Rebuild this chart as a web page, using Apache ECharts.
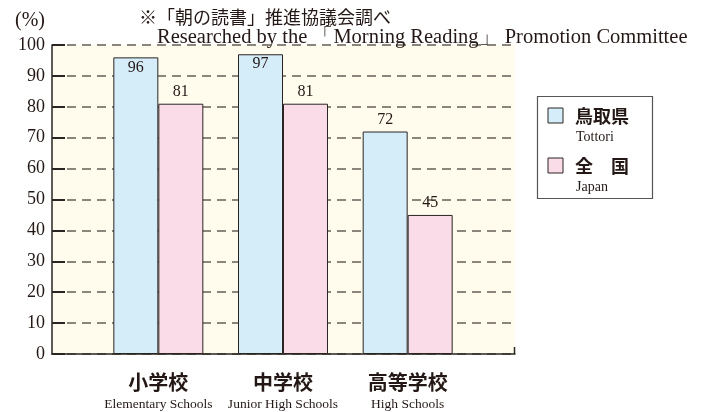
<!DOCTYPE html>
<html>
<head>
<meta charset="utf-8">
<script src="https://cdn.jsdelivr.net/npm/echarts@6/dist/echarts.min.js"></script>
<style>
  html, body { margin: 0; padding: 0; background: #fff; }
  #chart { width: 705px; height: 412px; }
</style>
</head>
<body>
<div id="chart"></div>
<script>
// 学校種別（日本語 / 英語）
const categoriesJa = ['小学校', '中学校', '高等学校'];
const categoriesEn = ['Elementary Schools', 'Junior High Schools', 'High Schools'];
// 系列
const seriesNames = ['鳥取県', '全　国'];
const seriesNamesEn = ['Tottori', 'Japan'];
const seriesColors = ['#d5ecf9', '#f9dce8'];
const tottoriValues = [96, 97, 72];
const japanValues = [81, 81, 45];
// y軸
const yMin = 0;
const yMax = 100;
const yStep = 10;

const serif = '"Liberation Serif", "DejaVu Serif", serif';
const cjk = '"Noto Sans CJK JP", sans-serif';
const ink = '#231815';
const lineInk = '#2a2522';

const chart = echarts.init(document.getElementById('chart'));

const labelStyle = function (pos) {
  return {
    show: true,
    position: pos,
    distance: pos === 'insideTop' ? 2 : 4,
    fontFamily: serif,
    fontSize: 16,
    color: ink
  };
};

// 凡例（枠・色見本・文字）
const legendItems = [];
seriesNames.forEach(function (name, i) {
  const y0 = 108 + i * 50;
  legendItems.push(
    { type: 'rect', shape: { x: 548, y: y0, width: 15, height: 15 }, style: { fill: seriesColors[i], stroke: lineInk, lineWidth: 1 } },
    { type: 'text', x: 575, y: y0 + 8, style: { text: name, fontFamily: cjk, fontSize: 18, fontWeight: 'bold', fill: ink, verticalAlign: 'middle' } },
    { type: 'text', x: 576, y: y0 + 29, style: { text: seriesNamesEn[i], fontFamily: serif, fontSize: 14, fill: ink, verticalAlign: 'middle' } }
  );
});

const option = {
  animation: false,
  backgroundColor: '#ffffff',
  grid: [
    // 背景・目盛り用
    { left: 52, right: 190, top: 45, bottom: 58, show: true, backgroundColor: '#fffcee', borderWidth: 0 },
    // 棒グラフ用
    { left: 96, right: 235, top: 45, bottom: 58 }
  ],
  title: [
    { text: '(%)', left: 10, top: 6, textStyle: { fontFamily: serif, fontSize: 20, fontWeight: 'normal', color: ink } },
    { text: '※「朝の読書」推進協議会調べ', left: 134, top: 3, textStyle: { fontFamily: cjk, fontSize: 18, fontWeight: 'normal', color: ink } },
    { text: 'Researched by the 「Morning Reading」 Promotion Committee', left: 152, top: 22, textStyle: { fontFamily: serif, fontSize: 20.5, fontWeight: 'normal', color: ink } }
  ],
  xAxis: [
    {
      gridIndex: 0,
      type: 'category',
      data: [''],
      axisLine: { show: true, lineStyle: { color: lineInk, width: 1.5 } },
      axisTick: { show: false },
      axisLabel: { show: false }
    },
    {
      gridIndex: 1,
      type: 'category',
      data: categoriesJa,
      axisLine: { show: false },
      axisTick: { show: false },
      axisLabel: {
        interval: 0,
        hideOverlap: false,
        margin: 16,
        formatter: function (v, i) {
          return '{ja|' + v + '}\n{en|' + categoriesEn[i] + '}';
        },
        rich: {
          ja: { fontFamily: cjk, fontSize: 20, fontWeight: 'bold', color: ink, lineHeight: 25 },
          en: { fontFamily: serif, fontSize: 13.5, color: ink, lineHeight: 18 }
        }
      }
    }
  ],
  yAxis: [
    {
      gridIndex: 0,
      type: 'value',
      min: yMin,
      max: yMax,
      interval: yStep,
      axisLine: { show: true, lineStyle: { color: lineInk, width: 1.5 } },
      axisTick: { show: true, inside: true, length: 13, lineStyle: { color: lineInk, width: 2 } },
      axisLabel: { margin: 7, fontFamily: serif, fontSize: 18, color: ink },
      splitLine: { show: true, lineStyle: { color: '#8c857b', width: 2, type: [9, 6] } }
    },
    {
      gridIndex: 1,
      type: 'value',
      min: yMin,
      max: yMax,
      interval: yStep,
      show: false,
      splitLine: { show: false }
    }
  ],
  series: [
    {
      name: seriesNames[0],
      type: 'bar',
      xAxisIndex: 1,
      yAxisIndex: 1,
      barWidth: 45,
      barGap: '0%',
      data: tottoriValues.map(function (v) {
        return { value: v, label: labelStyle(v > 90 ? 'insideTop' : 'top') };
      }),
      itemStyle: { color: seriesColors[0], borderColor: lineInk, borderWidth: 1 }
    },
    {
      name: seriesNames[1],
      type: 'bar',
      xAxisIndex: 1,
      yAxisIndex: 1,
      barWidth: 45,
      barGap: '0%',
      data: japanValues,
      label: labelStyle('top'),
      itemStyle: { color: seriesColors[1], borderColor: lineInk, borderWidth: 1 }
    }
  ],
  graphic: [
    // x軸右端の小さな立ち上がり
    { type: 'line', shape: { x1: 514.5, y1: 347, x2: 514.5, y2: 354 }, style: { stroke: lineInk, lineWidth: 1.5 } },
    // 凡例の枠
    { type: 'rect', shape: { x: 537.5, y: 96.5, width: 115, height: 102 }, style: { fill: '#ffffff', stroke: '#555555', lineWidth: 1.2 } }
  ].concat(legendItems)
};

chart.setOption(option);
</script>
</body>
</html>
